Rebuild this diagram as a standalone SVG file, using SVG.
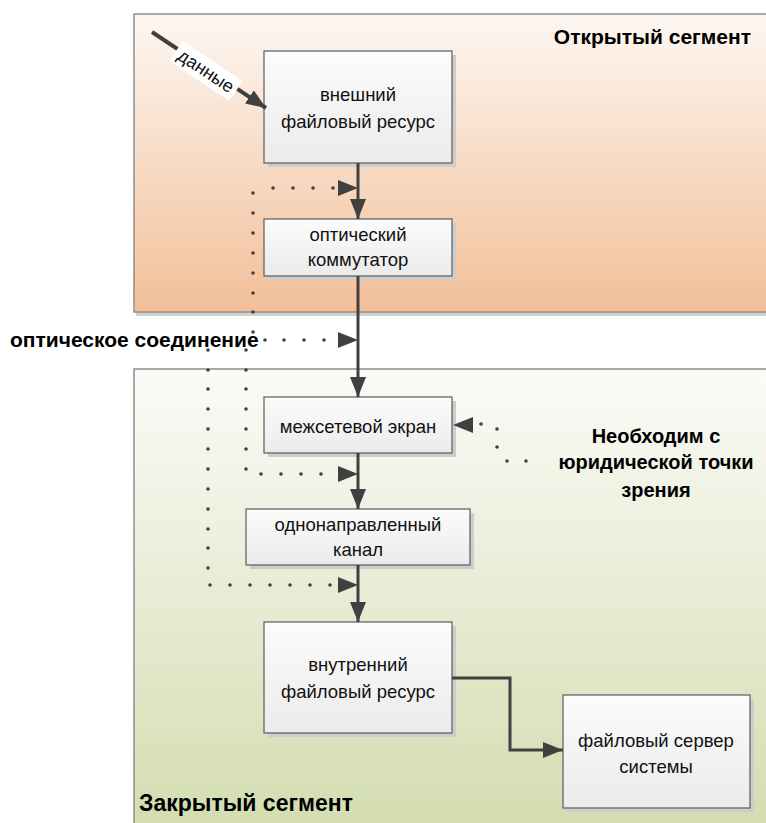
<svg xmlns="http://www.w3.org/2000/svg" width="766" height="823" viewBox="0 0 766 823">
  <style>
    .seg { stroke: #8f8f8f; stroke-width: 1.5; }
    .box { fill: url(#boxFill); stroke: #5b5b5b; stroke-width: 1.2; }
    .shadow { fill: #cdcdcd; }
    .txt { font-family: "Liberation Sans", "DejaVu Sans", sans-serif; font-size: 18.5px; fill: #111; text-anchor: middle; }
    .lbl { font-family: "Liberation Sans", "DejaVu Sans", sans-serif; font-size: 21px; font-weight: bold; fill: #000; }
    .flow { fill: none; stroke: #404040; stroke-width: 3; }
    .dot { fill: #404040; }
    .head { fill: #404040; }
  </style>
  <defs>
    <linearGradient id="openFill" x1="0" y1="0" x2="0" y2="1">
      <stop offset="0" stop-color="#fdf7f2"/>
      <stop offset="1" stop-color="#f2bf98"/>
    </linearGradient>
    <linearGradient id="closedFill" x1="0" y1="0" x2="0" y2="1">
      <stop offset="0" stop-color="#fbfbf8"/>
      <stop offset="1" stop-color="#d3ddb0"/>
    </linearGradient>
    <linearGradient id="boxFill" x1="0" y1="0" x2="0" y2="1">
      <stop offset="0" stop-color="#fcfcfc"/>
      <stop offset="1" stop-color="#ebebeb"/>
    </linearGradient>
    <marker id="arr" viewBox="0 0 20 16" refX="20" refY="8" markerWidth="20" markerHeight="16" markerUnits="userSpaceOnUse" orient="auto">
      <path d="M0,0 L20,8 L0,16 Z" fill="#404040"/>
    </marker>
  </defs>

  <!-- segments -->
  <g id="open-segment">
    <rect x="136" y="312" width="632" height="4" fill="#d0d0d0"/>
    <rect x="134" y="14" width="634" height="298" fill="url(#openFill)" class="seg"/>
    <text class="lbl" x="751" y="44" text-anchor="end">Открытый сегмент</text>
  </g>
  <g id="closed-segment">
    <rect x="134" y="369" width="634" height="456" fill="url(#closedFill)" class="seg"/>
    <text class="lbl" x="139" y="811" style="font-size:23px">Закрытый сегмент</text>
  </g>

  <!-- nodes -->
  <g id="external-resource">
    <rect class="shadow" x="268" y="55" width="188" height="112"/>
    <rect class="box" x="264" y="51" width="188" height="112"/>
    <text class="txt" x="358" y="101">внешний</text>
    <text class="txt" x="358" y="128">файловый ресурс</text>
  </g>
  <g id="optical-switch">
    <rect class="shadow" x="268" y="223" width="188" height="57"/>
    <rect class="box" x="264" y="219" width="188" height="57"/>
    <text class="txt" x="358" y="241">оптический</text>
    <text class="txt" x="358" y="266">коммутатор</text>
  </g>
  <g id="firewall">
    <rect class="shadow" x="268" y="401" width="188" height="56"/>
    <rect class="box" x="264" y="397" width="188" height="56"/>
    <text class="txt" x="358" y="433">межсетевой экран</text>
  </g>
  <g id="one-way-channel">
    <rect class="shadow" x="250" y="513" width="224" height="56"/>
    <rect class="box" x="246" y="509" width="224" height="56"/>
    <text class="txt" x="358" y="531">однонаправленный</text>
    <text class="txt" x="358" y="556">канал</text>
  </g>
  <g id="internal-resource">
    <rect class="shadow" x="268" y="626" width="188" height="111"/>
    <rect class="box" x="264" y="622" width="188" height="111"/>
    <text class="txt" x="358" y="671">внутренний</text>
    <text class="txt" x="358" y="698">файловый ресурс</text>
  </g>
  <g id="file-server">
    <rect class="shadow" x="567" y="699" width="187" height="113"/>
    <rect class="box" x="563" y="695" width="187" height="113"/>
    <text class="txt" x="656" y="747">файловый сервер</text>
    <text class="txt" x="656" y="773">системы</text>
  </g>

  <!-- free labels -->
  <g id="optical-link-label">
    <text class="lbl" x="10" y="347">оптическое соединение</text>
  </g>
  <g id="legal-note">
    <text class="lbl" x="656" y="443" text-anchor="middle" style="font-size:20px">Необходим с</text>
    <text class="lbl" x="656" y="469" text-anchor="middle" style="font-size:20px">юридической точки</text>
    <text class="lbl" x="656" y="497" text-anchor="middle" style="font-size:20px">зрения</text>
  </g>

  <!-- connectors -->
  <g id="connectors">
    <!-- incoming data -->
    <line x1="152" y1="32" x2="266" y2="108" stroke="#404040" stroke-width="4" marker-end="url(#arr)"/>
    <g transform="translate(206,71) rotate(33.7)">
      <rect x="-36" y="-12" width="72" height="24" fill="#ffffff"/>
      <text x="0" y="6" style="font-family:'Liberation Sans','DejaVu Sans',sans-serif;font-size:18px;fill:#111" text-anchor="middle">данные</text>
    </g>

    <!-- main chain -->
    <line class="flow" x1="358" y1="163" x2="358" y2="219" marker-end="url(#arr)"/>
    <line class="flow" x1="358" y1="276" x2="358" y2="397" marker-end="url(#arr)"/>
    <line class="flow" x1="358" y1="453" x2="358" y2="509" marker-end="url(#arr)"/>
    <line class="flow" x1="358" y1="565" x2="358" y2="622" marker-end="url(#arr)"/>
    <polyline class="flow" points="452,678 510,678 510,750 563,750" marker-end="url(#arr)"/>

    <!-- dotted optical links -->
    <g id="optical-dots">
      <!-- to the segment after the external resource -->
      <g class="dot">
        <circle cx="253" cy="193" r="1.8"/><circle cx="273" cy="188" r="1.8"/><circle cx="293" cy="188" r="1.8"/><circle cx="313" cy="188" r="1.8"/><circle cx="333" cy="188" r="1.8"/>
        <circle cx="253" cy="213" r="1.8"/><circle cx="253" cy="233" r="1.8"/><circle cx="253" cy="253" r="1.8"/><circle cx="253" cy="273" r="1.8"/><circle cx="253" cy="293" r="1.8"/><circle cx="253" cy="312" r="1.8"/><circle cx="253" cy="332" r="1.8"/>
      </g>
      <path class="head" d="M338,180 L358,188 L338,196 Z"/>
      <!-- level of the label -->
      <g class="dot">
        <circle cx="265" cy="340" r="1.8"/><circle cx="284" cy="340" r="1.8"/><circle cx="304" cy="340" r="1.8"/><circle cx="324" cy="340" r="1.8"/>
      </g>
      <path class="head" d="M338,332 L358,340 L338,348 Z"/>
      <!-- to the segment after the firewall -->
      <g class="dot">
        <circle cx="246" cy="350" r="1.8"/><circle cx="246" cy="370" r="1.8"/><circle cx="246" cy="389" r="1.8"/><circle cx="246" cy="409" r="1.8"/><circle cx="246" cy="429" r="1.8"/><circle cx="246" cy="449" r="1.8"/><circle cx="246" cy="469" r="1.8"/>
        <circle cx="261" cy="474" r="1.8"/><circle cx="281" cy="474" r="1.8"/><circle cx="301" cy="474" r="1.8"/><circle cx="321" cy="474" r="1.8"/>
      </g>
      <path class="head" d="M338,466 L358,474 L338,482 Z"/>
      <!-- to the segment after the one-way channel -->
      <g class="dot">
        <circle cx="208" cy="350" r="1.8"/><circle cx="208" cy="370" r="1.8"/><circle cx="208" cy="389" r="1.8"/><circle cx="208" cy="409" r="1.8"/><circle cx="208" cy="429" r="1.8"/><circle cx="208" cy="449" r="1.8"/><circle cx="208" cy="469" r="1.8"/><circle cx="208" cy="489" r="1.8"/><circle cx="208" cy="509" r="1.8"/><circle cx="208" cy="529" r="1.8"/><circle cx="208" cy="548" r="1.8"/><circle cx="208" cy="568" r="1.8"/>
        <circle cx="210" cy="585" r="1.8"/><circle cx="230" cy="585" r="1.8"/><circle cx="250" cy="585" r="1.8"/><circle cx="270" cy="585" r="1.8"/><circle cx="290" cy="585" r="1.8"/><circle cx="310" cy="585" r="1.8"/><circle cx="330" cy="585" r="1.8"/>
      </g>
      <path class="head" d="M338,577 L358,585 L338,593 Z"/>
    </g>

    <!-- dotted legal note link -->
    <g class="dot">
      <circle cx="481" cy="424" r="1.8"/><circle cx="497" cy="429" r="1.8"/><circle cx="497" cy="447" r="1.8"/><circle cx="507" cy="461" r="1.8"/><circle cx="526" cy="461" r="1.8"/>
    </g>
    <path class="head" d="M473,417 L453,425 L473,433 Z"/>
  </g>
</svg>
